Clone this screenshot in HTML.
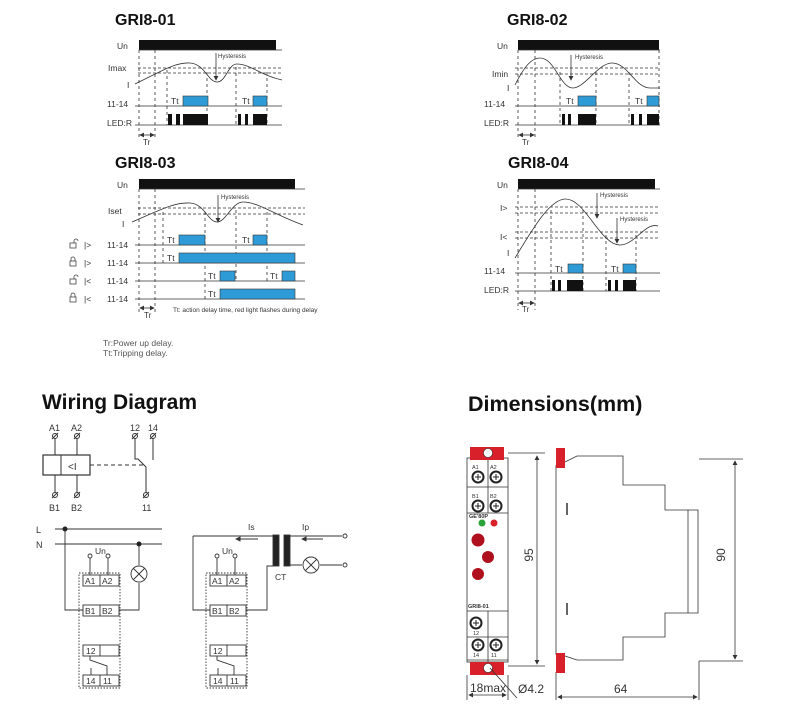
<!DOCTYPE html>
<html><head><meta charset="utf-8"><style>
html,body{margin:0;padding:0;background:#fff;}
svg{display:block;font-family:"Liberation Sans",sans-serif;}
</style></head><body>
<svg width="800" height="714" viewBox="0 0 800 714" xmlns="http://www.w3.org/2000/svg">
<defs>
<marker id="ar" markerWidth="6" markerHeight="6" refX="5" refY="3" orient="auto"><path d="M0,0 L6,3 L0,6 z" fill="#333"/></marker>
<marker id="al" markerWidth="6" markerHeight="6" refX="1" refY="3" orient="auto"><path d="M6,0 L0,3 L6,6 z" fill="#333"/></marker>
</defs>
<g font-size="8.5" fill="#333">
<!-- GRI8-01 -->
<text x="115" y="25" font-size="16" font-weight="bold" fill="#111">GRI8-01</text>
<text x="117" y="49">Un</text><text x="108" y="71">Imax</text><text x="127" y="88">I</text>
<text x="107" y="107">11-14</text><text x="107" y="126">LED:R</text>
<rect x="139" y="40" width="137" height="10" fill="#111"/>
<g stroke="#333" stroke-width="0.8" fill="none">
<line x1="139" y1="50" x2="282" y2="50"/><line x1="135" y1="106" x2="282" y2="106"/><line x1="135" y1="125" x2="282" y2="125"/>
<line x1="138" y1="68" x2="282" y2="68" stroke-dasharray="3,2"/><line x1="138" y1="73" x2="282" y2="73" stroke-dasharray="3,2"/>
<path d="M135,84 C160,72 175,62 190,63 C205,64 208,82 217,82 C226,82 228,64 237,64 C250,64 262,76 282,80"/>
<g stroke-dasharray="3,3"><line x1="139" y1="50" x2="139" y2="140"/><line x1="155" y1="50" x2="155" y2="140"/><line x1="167" y1="70" x2="167" y2="125"/><line x1="207" y1="72" x2="207" y2="125"/><line x1="236" y1="67" x2="236" y2="125"/><line x1="267" y1="72" x2="267" y2="125"/></g>
<line x1="216" y1="53" x2="216" y2="80" marker-end="url(#ar)"/>
<line x1="140" y1="135" x2="154" y2="135" marker-end="url(#ar)" marker-start="url(#al)"/>
</g>
<text x="218" y="58" font-size="6">Hysteresis</text><text x="143" y="145" font-size="8">Tr</text>
<rect x="183" y="96" width="25" height="10" fill="#2f9bd6" stroke="#333" stroke-width="0.6"/><rect x="253" y="96" width="14" height="10" fill="#2f9bd6" stroke="#333" stroke-width="0.6"/>
<text x="171" y="104">Tt</text><text x="242" y="104">Tt</text>
<g fill="#111"><rect x="168" y="114" width="4" height="11"/><rect x="176" y="114" width="4" height="11"/><rect x="183" y="114" width="25" height="11"/><rect x="238" y="114" width="3" height="11"/><rect x="245" y="114" width="3" height="11"/><rect x="253" y="114" width="14" height="11"/></g>

<!-- GRI8-02 -->
<text x="507" y="25" font-size="16" font-weight="bold" fill="#111">GRI8-02</text>
<text x="497" y="49">Un</text><text x="492" y="77">Imin</text><text x="507" y="91">I</text>
<text x="484" y="107">11-14</text><text x="484" y="126">LED:R</text>
<rect x="518" y="40" width="141" height="10" fill="#111"/>
<g stroke="#333" stroke-width="0.8" fill="none">
<line x1="518" y1="50" x2="660" y2="50"/><line x1="515" y1="106" x2="660" y2="106"/><line x1="515" y1="125" x2="660" y2="125"/>
<line x1="515" y1="68" x2="660" y2="68" stroke-dasharray="3,2"/><line x1="515" y1="74" x2="660" y2="74" stroke-dasharray="3,2"/>
<path d="M515,85 C525,65 532,58 540,58 C555,58 560,88 573,88 C585,88 598,63 612,63 C628,63 635,88 650,88 L660,88"/>
<g stroke-dasharray="3,3"><line x1="518" y1="50" x2="518" y2="140"/><line x1="535" y1="50" x2="535" y2="140"/><line x1="560" y1="72" x2="560" y2="125"/><line x1="596" y1="72" x2="596" y2="125"/><line x1="629" y1="72" x2="629" y2="125"/><line x1="659" y1="50" x2="659" y2="125"/></g>
<line x1="571" y1="55" x2="571" y2="80" marker-end="url(#ar)"/>
<line x1="519" y1="135" x2="534" y2="135" marker-end="url(#ar)" marker-start="url(#al)"/>
</g>
<text x="575" y="59" font-size="6">Hysteresis</text><text x="522" y="145" font-size="8">Tr</text>
<rect x="578" y="96" width="18" height="10" fill="#2f9bd6" stroke="#333" stroke-width="0.6"/><rect x="647" y="96" width="12" height="10" fill="#2f9bd6" stroke="#333" stroke-width="0.6"/>
<text x="566" y="104">Tt</text><text x="635" y="104">Tt</text>
<g fill="#111"><rect x="562" y="114" width="3" height="11"/><rect x="568" y="114" width="3" height="11"/><rect x="578" y="114" width="18" height="11"/><rect x="631" y="114" width="3" height="11"/><rect x="639" y="114" width="3" height="11"/><rect x="647" y="114" width="12" height="11"/></g>

<!-- GRI8-03 -->
<text x="115" y="168" font-size="16" font-weight="bold" fill="#111">GRI8-03</text>
<text x="117" y="188">Un</text><text x="108" y="214">Iset</text><text x="122" y="227">I</text>
<rect x="139" y="179" width="156" height="10" fill="#111"/>
<g stroke="#333" stroke-width="0.8" fill="none">
<line x1="139" y1="189" x2="305" y2="189"/>
<line x1="138" y1="208" x2="305" y2="208" stroke-dasharray="3,2"/><line x1="138" y1="214" x2="305" y2="214" stroke-dasharray="3,2"/>
<line x1="135" y1="245" x2="305" y2="245"/><line x1="135" y1="263" x2="305" y2="263"/><line x1="135" y1="281" x2="305" y2="281"/><line x1="135" y1="299" x2="305" y2="299"/>
<path d="M132,222 C160,210 175,202 190,203 C205,204 208,222 217,222 C226,222 232,202 243,202 C258,202 275,215 303,225"/>
<g stroke-dasharray="3,3"><line x1="139" y1="189" x2="139" y2="315"/><line x1="155" y1="189" x2="155" y2="315"/><line x1="163" y1="212" x2="163" y2="263"/><line x1="205" y1="212" x2="205" y2="299"/><line x1="236" y1="210" x2="236" y2="281"/><line x1="267" y1="212" x2="267" y2="281"/></g>
<line x1="218" y1="195" x2="218" y2="222" marker-end="url(#ar)"/>
<line x1="140" y1="308" x2="154" y2="308" marker-end="url(#ar)" marker-start="url(#al)"/>
</g>
<text x="221" y="199" font-size="6">Hysteresis</text><text x="144" y="318" font-size="8">Tr</text>
<g fill="#2f9bd6" stroke="#333" stroke-width="0.6"><rect x="179" y="235" width="26" height="10"/><rect x="253" y="235" width="14" height="10"/><rect x="179" y="253" width="116" height="10"/><rect x="220" y="271" width="15" height="10"/><rect x="282" y="271" width="13" height="10"/><rect x="220" y="289" width="75" height="10"/></g>
<text x="167" y="243">Tt</text><text x="242" y="243">Tt</text><text x="167" y="261">Tt</text><text x="208" y="279">Tt</text><text x="270" y="279">Tt</text><text x="208" y="297">Tt</text>
<text x="107" y="248">11-14</text><text x="107" y="266">11-14</text><text x="107" y="284">11-14</text><text x="107" y="302">11-14</text>
<text x="84" y="248">|&gt;</text><text x="84" y="266">|&gt;</text><text x="84" y="284">|&lt;</text><text x="84" y="302">|&lt;</text>
<g stroke="#444" stroke-width="0.8" fill="none">
<rect x="70" y="243" width="6" height="5"/><path d="M74,243 v-2 a2,2 0 0 1 4,0"/>
<rect x="70" y="261" width="6" height="5"/><path d="M71,261 v-2 a2,2 0 0 1 4,0 v2"/>
<rect x="70" y="279" width="6" height="5"/><path d="M74,279 v-2 a2,2 0 0 1 4,0"/>
<rect x="70" y="297" width="6" height="5"/><path d="M71,297 v-2 a2,2 0 0 1 4,0 v2"/>
</g>
<text x="173" y="312" font-size="6.5">Tt: action delay time, red light flashes during delay</text>
<text x="103" y="346" font-size="8.5" fill="#555">Tr:Power up delay.</text>
<text x="103" y="356" font-size="8.5" fill="#555">Tt:Tripping delay.</text>

<!-- GRI8-04 -->
<text x="508" y="168" font-size="16" font-weight="bold" fill="#111">GRI8-04</text>
<text x="497" y="188">Un</text><text x="500" y="211">I&gt;</text><text x="500" y="240">I&lt;</text><text x="507" y="256">I</text>
<text x="484" y="274">11-14</text><text x="484" y="293">LED:R</text>
<rect x="518" y="179" width="137" height="10" fill="#111"/>
<g stroke="#333" stroke-width="0.8" fill="none">
<line x1="518" y1="189" x2="660" y2="189"/><line x1="515" y1="273" x2="660" y2="273"/><line x1="515" y1="291" x2="660" y2="291"/>
<g stroke-dasharray="3,2"><line x1="515" y1="207" x2="660" y2="207"/><line x1="515" y1="213" x2="660" y2="213"/><line x1="515" y1="232" x2="660" y2="232"/><line x1="515" y1="238" x2="660" y2="238"/></g>
<path d="M515,258 C535,225 550,200 565,199 C585,198 600,245 620,245 C635,245 645,222 658,226"/>
<g stroke-dasharray="3,3"><line x1="518" y1="189" x2="518" y2="310"/><line x1="535" y1="189" x2="535" y2="310"/><line x1="551" y1="210" x2="551" y2="291"/><line x1="583" y1="210" x2="583" y2="291"/><line x1="606" y1="235" x2="606" y2="291"/><line x1="636" y1="235" x2="636" y2="291"/></g>
<line x1="597" y1="193" x2="597" y2="218" marker-end="url(#ar)"/>
<line x1="617" y1="218" x2="617" y2="243" marker-end="url(#ar)"/>
<line x1="519" y1="303" x2="534" y2="303" marker-end="url(#ar)" marker-start="url(#al)"/>
</g>
<text x="600" y="197" font-size="6">Hysteresis</text><text x="620" y="221" font-size="6">Hysteresis</text><text x="522" y="312" font-size="8">Tr</text>
<rect x="568" y="264" width="15" height="9" fill="#2f9bd6" stroke="#333" stroke-width="0.6"/><rect x="623" y="264" width="13" height="9" fill="#2f9bd6" stroke="#333" stroke-width="0.6"/>
<text x="555" y="272">Tt</text><text x="611" y="272">Tt</text>
<g fill="#111"><rect x="552" y="280" width="3" height="11"/><rect x="558" y="280" width="3" height="11"/><rect x="567" y="280" width="16" height="11"/><rect x="608" y="280" width="3" height="11"/><rect x="615" y="280" width="3" height="11"/><rect x="623" y="280" width="13" height="11"/></g>
</g>

<!-- Titles -->
<text x="42" y="409" font-size="21" font-weight="bold" fill="#111">Wiring Diagram</text>
<text x="468" y="411" font-size="21.5" font-weight="bold" fill="#111">Dimensions(mm)</text>

<!-- Wiring -->
<g font-size="9" fill="#333">
<text x="49" y="431">A1</text><text x="71" y="431">A2</text><text x="130" y="431">12</text><text x="148" y="431">14</text>
<text x="49" y="511">B1</text><text x="71" y="511">B2</text><text x="142" y="511">11</text>
<g stroke="#333" stroke-width="1" fill="none">
<circle cx="55" cy="436" r="2.5"/><circle cx="77" cy="436" r="2.5"/><circle cx="135" cy="436" r="2.5"/><circle cx="153" cy="436" r="2.5"/>
<circle cx="55" cy="495" r="2.5"/><circle cx="77" cy="495" r="2.5"/><circle cx="146" cy="495" r="2.5"/>
<path d="M52,439 L58,433 M74,439 L80,433 M132,439 L138,433 M150,439 L156,433 M52,498 L58,492 M74,498 L80,492 M143,498 L149,492"/>
<line x1="55" y1="439" x2="55" y2="455"/><line x1="77" y1="439" x2="77" y2="455"/><line x1="55" y1="475" x2="55" y2="492"/><line x1="77" y1="475" x2="77" y2="492"/>
<rect x="43" y="455" width="47" height="20" stroke-width="1.2"/><line x1="61" y1="455" x2="61" y2="475"/>
<line x1="90" y1="465" x2="145" y2="465" stroke-dasharray="4,3"/>
<path d="M135,439 V459 H138 L146,467 V492"/><line x1="153" y1="439" x2="153" y2="460"/>
</g>
<text x="68" y="470" font-size="10">&lt;I</text>

<text x="36" y="533">L</text><text x="36" y="548">N</text>
<g stroke="#333" stroke-width="0.9" fill="none">
<line x1="55" y1="529" x2="162" y2="529"/><line x1="55" y1="544" x2="162" y2="544"/>
<path d="M65,529 V610 H83"/><path d="M139,544 V565 M139,583 V610 H119"/>
<circle cx="139" cy="574" r="8"/><path d="M133.5,568.5 L144.5,579.5 M144.5,568.5 L133.5,579.5"/>
<rect x="79" y="573" width="41" height="115" stroke-dasharray="1.5,1.5"/>
<rect x="83" y="575" width="36" height="11"/><line x1="100" y1="575" x2="100" y2="586"/>
<rect x="83" y="605" width="36" height="11"/><line x1="100" y1="605" x2="100" y2="616"/>
<rect x="83" y="645" width="36" height="11"/><line x1="100" y1="645" x2="100" y2="656"/>
<rect x="83" y="675" width="36" height="11"/><line x1="100" y1="675" x2="100" y2="686"/>
<circle cx="90" cy="556" r="2"/><circle cx="108" cy="556" r="2"/><line x1="90" y1="558" x2="90" y2="575"/><line x1="108" y1="558" x2="108" y2="575"/>
<path d="M90,656 V660 L107,666 V675 M91,668 V675"/>

<path d="M193,536 V610 H210"/><line x1="193" y1="536" x2="273" y2="536"/>
<rect x="273" y="535" width="6" height="31" fill="#222"/><rect x="284" y="535" width="6" height="31" fill="#222"/>
<line x1="290" y1="536" x2="342" y2="536"/><circle cx="345" cy="536" r="2"/>
<path d="M290,565 H302 M320,565 H342"/><circle cx="345" cy="565" r="2"/>
<circle cx="311" cy="565" r="8"/><path d="M305.5,559.5 L316.5,570.5 M316.5,559.5 L305.5,570.5"/>
<path d="M246,610 H267 V566 H273"/>
<line x1="258" y1="539" x2="236" y2="539" marker-end="url(#ar)"/><line x1="323" y1="539" x2="302" y2="539" marker-end="url(#ar)"/>
<rect x="206" y="573" width="41" height="115" stroke-dasharray="1.5,1.5"/>
<rect x="210" y="575" width="36" height="11"/><line x1="227" y1="575" x2="227" y2="586"/>
<rect x="210" y="605" width="36" height="11"/><line x1="227" y1="605" x2="227" y2="616"/>
<rect x="210" y="645" width="36" height="11"/><line x1="227" y1="645" x2="227" y2="656"/>
<rect x="210" y="675" width="36" height="11"/><line x1="227" y1="675" x2="227" y2="686"/>
<circle cx="217" cy="556" r="2"/><circle cx="235" cy="556" r="2"/><line x1="217" y1="558" x2="217" y2="575"/><line x1="235" y1="558" x2="235" y2="575"/>
<path d="M217,656 V660 L234,666 V675 M218,668 V675"/>
</g>
<circle cx="65" cy="529" r="2.5" fill="#222"/><circle cx="139" cy="544" r="2.5" fill="#222"/>
<g font-size="8.5">
<text x="95" y="554">Un</text><text x="85" y="584">A1</text><text x="102" y="584">A2</text><text x="85" y="614">B1</text><text x="102" y="614">B2</text><text x="86" y="654">12</text><text x="86" y="684">14</text><text x="103" y="684">11</text>
<text x="222" y="554">Un</text><text x="212" y="584">A1</text><text x="229" y="584">A2</text><text x="212" y="614">B1</text><text x="229" y="614">B2</text><text x="213" y="654">12</text><text x="213" y="684">14</text><text x="230" y="684">11</text>
<text x="248" y="530">Is</text><text x="302" y="530">Ip</text><text x="275" y="580">CT</text>
</g>
</g>

<!-- Dimensions front -->
<g stroke="#333" stroke-width="0.8" fill="none">
<rect x="467" y="458" width="41" height="204" fill="#fff"/>
<line x1="467" y1="487" x2="508" y2="487"/><line x1="467" y1="513" x2="508" y2="513"/><line x1="467" y1="611" x2="508" y2="611"/><line x1="467" y1="637" x2="508" y2="637"/><line x1="467" y1="660" x2="508" y2="660"/>
<line x1="488" y1="455" x2="488" y2="513"/><line x1="488" y1="611" x2="488" y2="668"/>
</g>
<rect x="470" y="447" width="34" height="13" fill="#d7202a"/><rect x="470" y="662" width="34" height="13" fill="#d7202a"/>
<circle cx="488" cy="453" r="4.5" fill="#fff" stroke="#333" stroke-width="0.6"/><circle cx="488" cy="668" r="4.5" fill="#fff" stroke="#333" stroke-width="0.6"/>
<g fill="#fff" stroke="#222" stroke-width="2"><circle cx="478" cy="477" r="5.5"/><circle cx="496" cy="477" r="5.5"/><circle cx="478" cy="506" r="5.5"/><circle cx="496" cy="506" r="5.5"/><circle cx="476" cy="623" r="5.5"/><circle cx="478" cy="645" r="5.5"/><circle cx="496" cy="645" r="5.5"/></g>
<g stroke="#222" stroke-width="1"><path d="M475,477h6M478,474v6M493,477h6M496,474v6M475,506h6M478,503v6M493,506h6M496,503v6M473,623h6M476,620v6M475,645h6M478,642v6M493,645h6M496,642v6"/></g>
<g font-size="5.5" fill="#333"><text x="472" y="469">A1</text><text x="490" y="469">A2</text><text x="472" y="498">B1</text><text x="490" y="498">B2</text><text x="469" y="518" font-weight="bold">GE'80P</text><text x="468" y="608" font-weight="bold">GRI8-01</text><text x="473" y="635">12</text><text x="473" y="657">14</text><text x="491" y="657">11</text></g>
<circle cx="482" cy="523" r="3.5" fill="#2aa33b"/><circle cx="494" cy="523" r="3.5" fill="#d7202a"/>
<g fill="#b0101e"><circle cx="478" cy="540" r="6.5"/><circle cx="488" cy="557" r="6"/><circle cx="478" cy="574" r="6"/></g>
<!-- side view -->
<g stroke="#333" stroke-width="0.8" fill="none">
<path d="M556,465 V655 M565,462 L577,456 H623 V485 H665 V510 H698 V613 H665 V637 H623 V660 H577 L565,656"/>
<line x1="688" y1="510" x2="688" y2="613"/>
<line x1="567" y1="503" x2="567" y2="515" stroke-width="1.5"/><line x1="567" y1="603" x2="567" y2="615" stroke-width="1.5"/>
<line x1="699" y1="459" x2="743" y2="459"/><line x1="699" y1="661" x2="743" y2="661"/>
<line x1="735" y1="461" x2="735" y2="659" marker-end="url(#ar)" marker-start="url(#al)"/>
<line x1="508" y1="453" x2="545" y2="453"/><line x1="508" y1="666" x2="545" y2="666"/>
<line x1="537" y1="456" x2="537" y2="664" marker-end="url(#ar)" marker-start="url(#al)"/>
<line x1="467" y1="675" x2="467" y2="700"/><line x1="508" y1="675" x2="508" y2="700"/>
<line x1="469" y1="695" x2="506" y2="695" marker-end="url(#ar)" marker-start="url(#al)"/>
<line x1="556" y1="672" x2="556" y2="700"/><line x1="699" y1="661" x2="699" y2="700"/>
<line x1="558" y1="697" x2="697" y2="697" marker-end="url(#ar)" marker-start="url(#al)"/>
<line x1="490" y1="668" x2="517" y2="698"/>
</g>
<rect x="556" y="448" width="9" height="20" fill="#d7202a"/><rect x="556" y="653" width="9" height="20" fill="#d7202a"/>
<g font-size="12" fill="#333">
<text x="470" y="692">18max</text><text x="518" y="693">Ø4.2</text><text x="614" y="693">64</text>
<text transform="translate(537,555) rotate(-90)" text-anchor="middle" dy="-4">95</text>
<text transform="translate(725,555) rotate(-90)" text-anchor="middle">90</text>
</g>
</svg>
</body></html>
